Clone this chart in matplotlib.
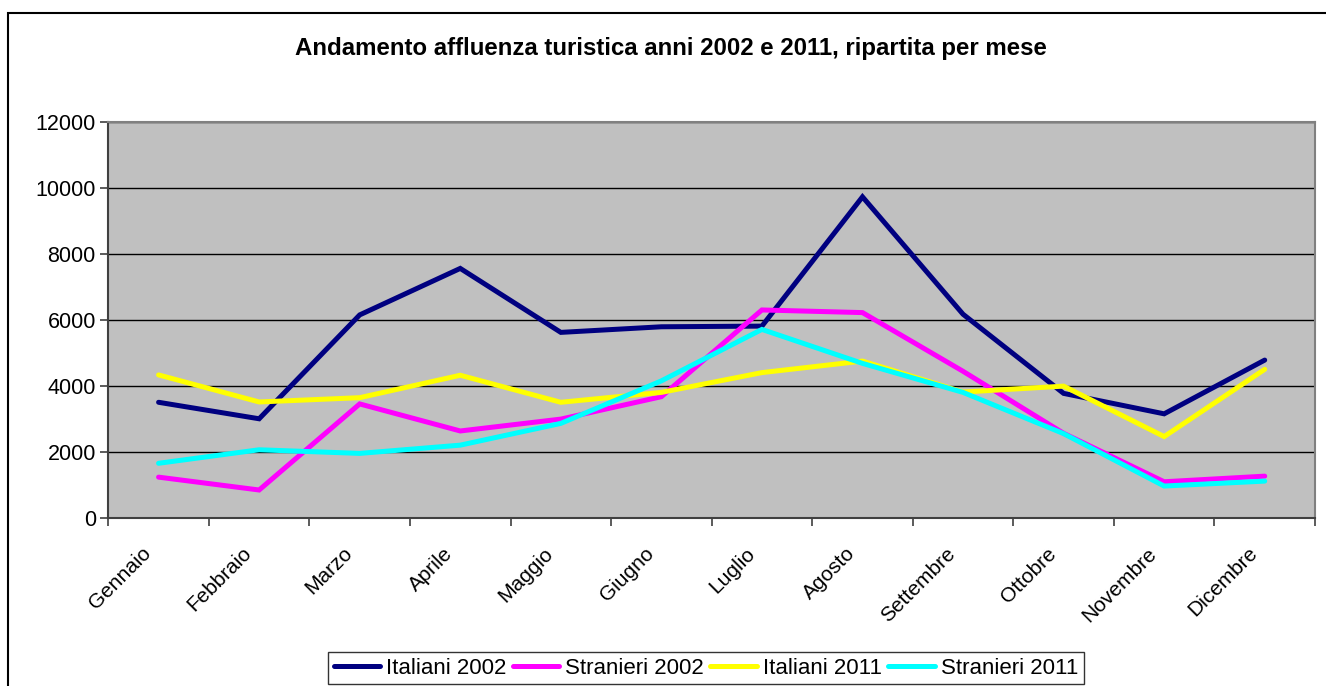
import matplotlib
matplotlib.use("Agg")
import matplotlib.pyplot as plt
from matplotlib.patches import Rectangle
from matplotlib import transforms
import numpy as np

months = ["Gennaio", "Febbraio", "Marzo", "Aprile", "Maggio", "Giugno",
          "Luglio", "Agosto", "Settembre", "Ottobre", "Novembre", "Dicembre"]
italiani_2002 = [3500, 3000, 6150, 7560, 5620, 5790, 5810, 9730, 6170, 3770, 3150, 4780]
stranieri_2002 = [1230, 840, 3450, 2630, 2990, 3670, 6300, 6220, 4440, 2560, 1090, 1260]
italiani_2011 = [4330, 3510, 3640, 4320, 3500, 3800, 4400, 4750, 3810, 3990, 2460, 4500]
stranieri_2011 = [1650, 2060, 1950, 2200, 2860, 4150, 5710, 4680, 3800, 2550, 960, 1110]
yticks = [0, 2000, 4000, 6000, 8000, 10000, 12000]

series = [
    ("Italiani 2002", italiani_2002, "#000080"),
    ("Stranieri 2002", stranieri_2002, "#FF00FF"),
    ("Italiani 2011", italiani_2011, "#FFFF00"),
    ("Stranieri 2011", stranieri_2011, "#00FFFF"),
]

plt.rcParams['font.family'] = ['Liberation Sans', 'DejaVu Sans']

W, H = 1326, 686
fig = plt.figure(figsize=(W / 100, H / 100), dpi=100)
fig.patch.set_facecolor("white")

# outer chart frame
fig.patches.append(Rectangle((8 / W, -0.05), 1.2, 1 - 13 / H + 0.05,
                             transform=fig.transFigure, fill=False,
                             edgecolor="black", linewidth=1.5, zorder=0))

left, right = 108.3 / W, 1315 / W
bottom, top = 1 - 517.7 / H, 1 - 122 / H
ax = fig.add_axes([left, bottom, right - left, top - bottom])
ax.set_facecolor("#C0C0C0")

x = np.arange(len(months))
lines = []
for name, vals, col in series:
    ln, = ax.plot(x, vals, color=col, linewidth=3.6, label=name,
                  solid_joinstyle="miter", solid_capstyle="round", zorder=3)
    lines.append(ln)

ax.set_xlim(-0.5, len(months) - 0.5)
ax.set_ylim(0, 12000)
ax.set_yticks(yticks)
ax.set_yticklabels([str(v) for v in yticks], fontsize=15.5)
ax.yaxis.grid(True, color="black", linewidth=1.0)
ax.set_axisbelow(True)

# x ticks at category boundaries, labels at centres
ax.set_xticks(np.arange(-0.5, len(months), 1.0))
ax.set_xticklabels([])
ax.tick_params(axis="x", which="major", length=6, width=1.2, color="#404040")
ax.tick_params(axis="y", length=6, width=1.2, color="#404040", pad=3)

label_tr = transforms.blended_transform_factory(ax.transData, ax.transAxes) + \
    transforms.ScaledTranslation(-17 / 100, -26 / 100, fig.dpi_scale_trans)
for xi, m in zip(x, months):
    ax.text(xi, 0, m, transform=label_tr, rotation=45, ha="right", va="top",
            rotation_mode="anchor", fontsize=15, clip_on=False)

for s in ["left", "bottom"]:
    ax.spines[s].set_color("#404040")
    ax.spines[s].set_linewidth(1.5)
for s in ["top", "right"]:
    ax.spines[s].set_color("#808080")
    ax.spines[s].set_linewidth(1.5)

fig.text(0.506, 1 - 48 / H, "Andamento affluenza turistica anni 2002 e 2011, ripartita per mese",
         ha="center", va="center", fontsize=17.3, fontweight="bold")

leg = fig.legend(handles=lines, loc="upper left",
                 bbox_to_anchor=(328 / W, 1 - 652 / H), ncol=4,
                 frameon=True, fancybox=False, edgecolor="black",
                 prop={'size': 16},
                 handlelength=2.1, handletextpad=0.25,
                 columnspacing=0.3, borderpad=0.25, borderaxespad=0)
leg.get_frame().set_linewidth(1.0)

fig.savefig("out.png", dpi=100)
